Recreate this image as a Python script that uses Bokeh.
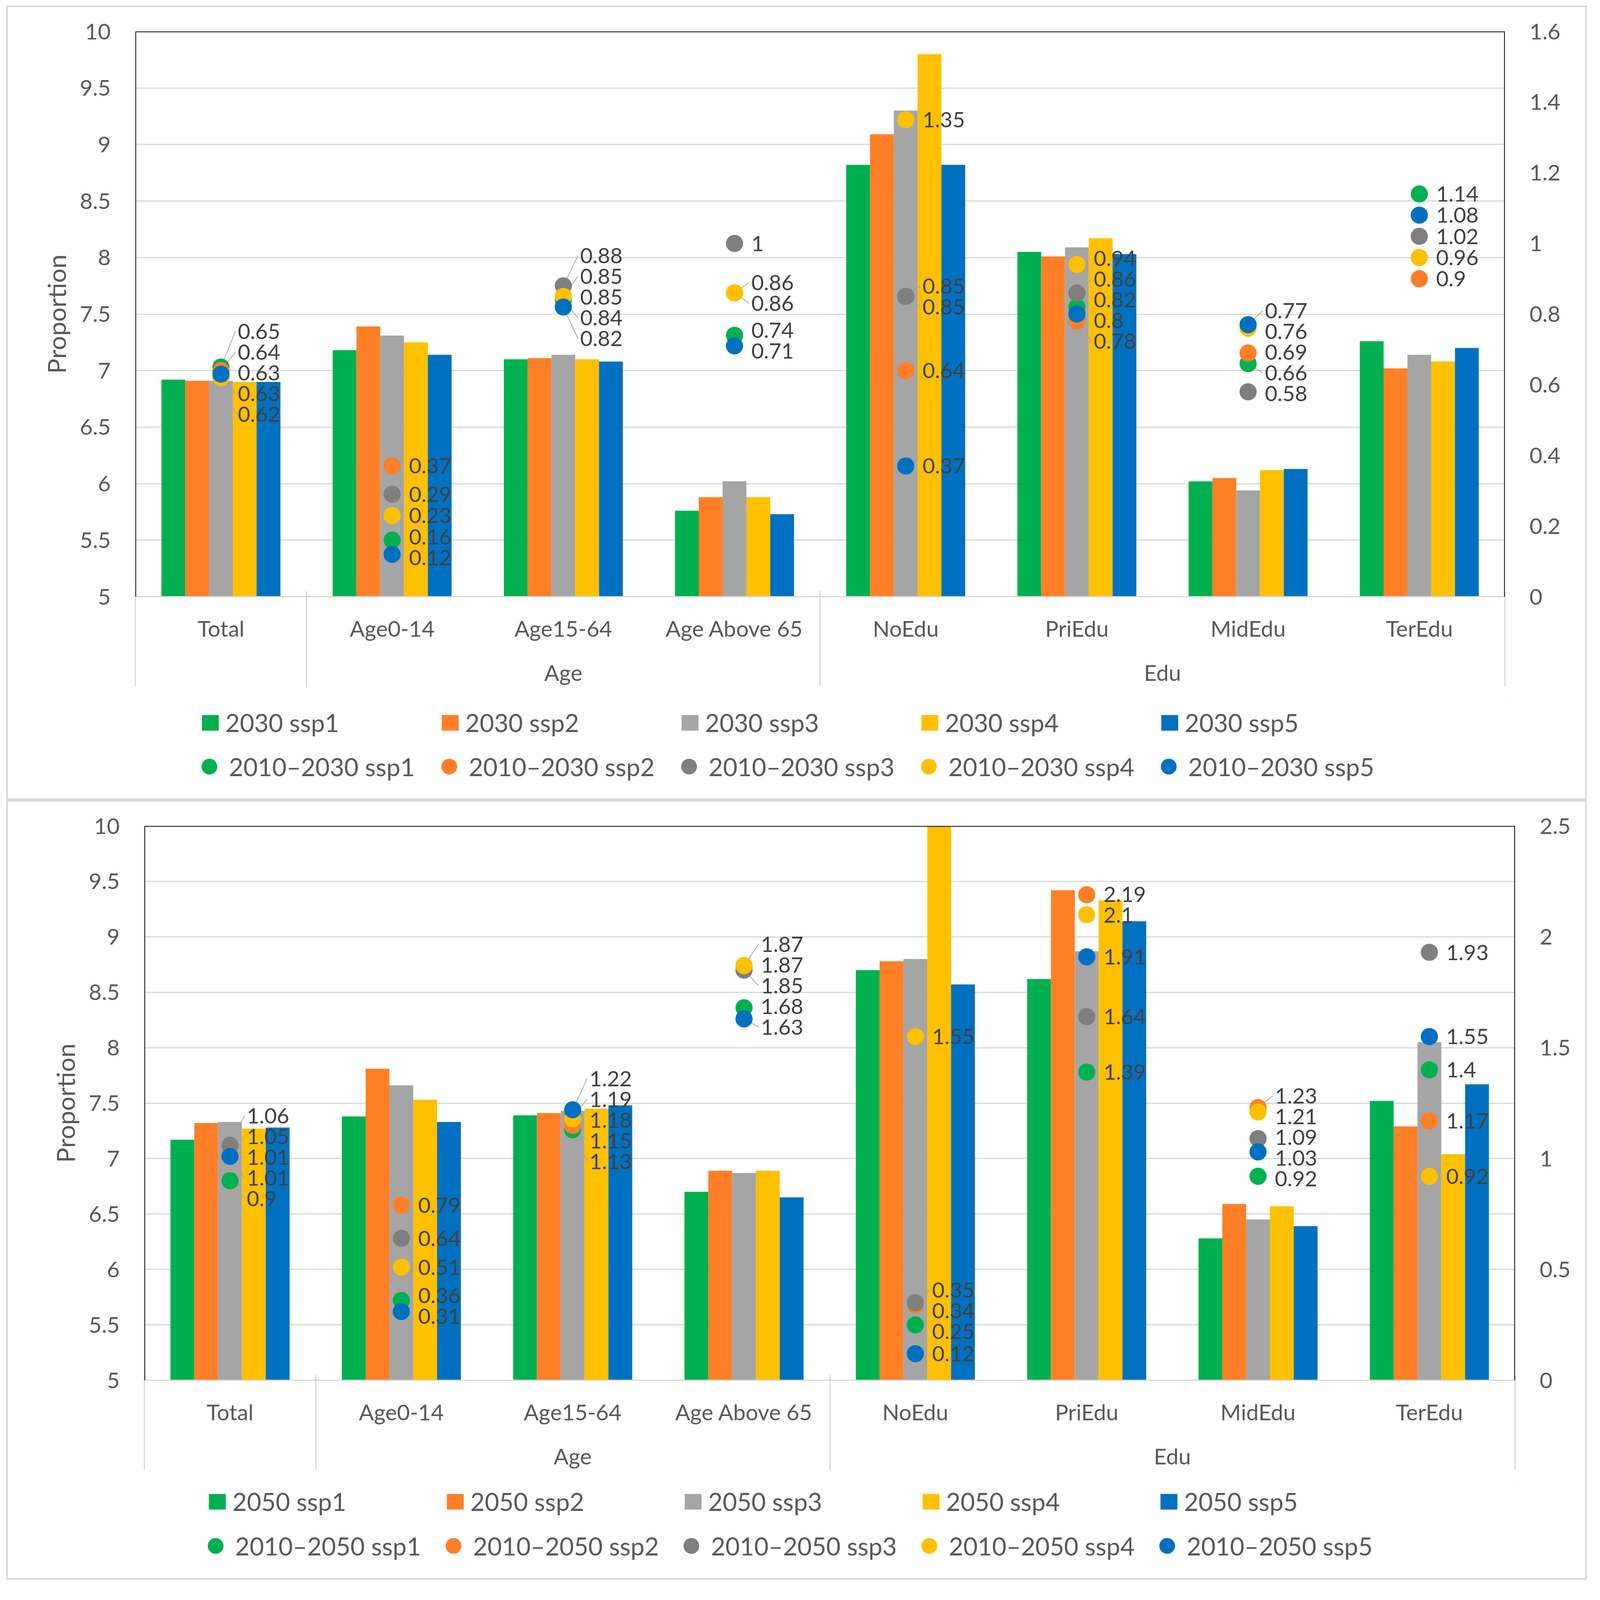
import numpy as np
from bokeh.plotting import figure
from bokeh.models import (Range1d, LinearAxis, ColumnDataSource, Legend, LegendItem,
                          NumeralTickFormatter, FixedTicker, Span, Spacer,
                          CustomJSTickFormatter)
from bokeh.layouts import column, row
from bokeh.embed import file_html
from bokeh.resources import INLINE
from bokeh.core.properties import value

# ---------------- data ----------------
groups = ["", "Age", "Age", "Age", "Edu", "Edu", "Edu", "Edu"]
categories = ["Total", "Age0-14", "Age15-64", "Age Above 65", "NoEdu", "PriEdu", "MidEdu", "TerEdu"]
scenarios = ["ssp1", "ssp2", "ssp3", "ssp4", "ssp5"]

# 2030 proportions (left axis)
bar2030_ssp1 = [6.92, 7.18, 7.10, 5.76, 8.82, 8.05, 6.02, 7.26]
bar2030_ssp2 = [6.91, 7.39, 7.11, 5.88, 9.09, 8.01, 6.05, 7.02]
bar2030_ssp3 = [6.91, 7.31, 7.14, 6.02, 9.30, 8.09, 5.94, 7.14]
bar2030_ssp4 = [6.90, 7.25, 7.10, 5.88, 9.80, 8.17, 6.12, 7.08]
bar2030_ssp5 = [6.90, 7.14, 7.08, 5.73, 8.82, 8.03, 6.13, 7.20]

# 2010-2030 change (right axis)
chg2030_ssp1 = [0.65, 0.16, 0.84, 0.74, 0.85, 0.82, 0.66, 1.14]
chg2030_ssp2 = [0.64, 0.37, 0.85, 0.86, 0.64, 0.78, 0.69, 0.90]
chg2030_ssp3 = [0.63, 0.29, 0.88, 1.00, 0.85, 0.86, 0.58, 1.02]
chg2030_ssp4 = [0.62, 0.23, 0.85, 0.86, 1.35, 0.94, 0.76, 0.96]
chg2030_ssp5 = [0.63, 0.12, 0.82, 0.71, 0.37, 0.80, 0.77, 1.08]

# 2050 proportions (left axis)
bar2050_ssp1 = [7.17, 7.38, 7.39, 6.70, 8.70, 8.62, 6.28, 7.52]
bar2050_ssp2 = [7.32, 7.81, 7.41, 6.89, 8.78, 9.42, 6.59, 7.29]
bar2050_ssp3 = [7.33, 7.66, 7.43, 6.87, 8.80, 8.87, 6.45, 8.05]
bar2050_ssp4 = [7.27, 7.53, 7.45, 6.89, 10.30, 9.33, 6.57, 7.04]
bar2050_ssp5 = [7.28, 7.33, 7.48, 6.65, 8.57, 9.14, 6.39, 7.67]

# 2010-2050 change (right axis)
chg2050_ssp1 = [0.90, 0.36, 1.13, 1.68, 0.25, 1.39, 0.92, 1.40]
chg2050_ssp2 = [1.05, 0.79, 1.15, 1.87, 0.34, 2.19, 1.23, 1.17]
chg2050_ssp3 = [1.06, 0.64, 1.19, 1.85, 0.35, 1.64, 1.09, 1.93]
chg2050_ssp4 = [1.01, 0.51, 1.18, 1.87, 1.55, 2.10, 1.21, 0.92]
chg2050_ssp5 = [1.01, 0.31, 1.22, 1.63, 0.12, 1.91, 1.03, 1.55]

left_ticks = [5, 5.5, 6, 6.5, 7, 7.5, 8, 8.5, 9, 9.5, 10]
right_ticks_2030 = [0, 0.2, 0.4, 0.6, 0.8, 1.0, 1.2, 1.4, 1.6]
right_ticks_2050 = [0, 0.5, 1.0, 1.5, 2.0, 2.5]

bar_colors = ["#00B050", "#FF7F27", "#A5A5A5", "#FFC000", "#0070C0"]
dot_colors = ["#00B050", "#FF7F27", "#7F7F7F", "#FFC000", "#0070C0"]

# ---------------- style ----------------
SX = 0.922         # CSS px per reference pixel, horizontally
SY = 0.83          # CSS px per reference pixel, vertically (visible page height)
FS = 0.86          # font scale
FONT = "Lato"
TICK_COLOR = "#595959"
LABEL_COLOR = "#404040"
GRID = "#d9d9d9"
BORDER = {"border": "4px solid #d9d9d9"}
LOOKUP = "const i = c.indexOf(tick); return i >= 0 ? t[i] : '';"


def pxx(v):
    return int(round(v * SX))


def pxy(v):
    return int(round(v * SY))


def fs(v):
    return f"{v * FS:.1f}px"


def spread(vals, gap):
    """1-D label de-overlap: clusters of labels centred on their mean value."""
    order = sorted(range(len(vals)), key=lambda i: -vals[i])
    clusters = [[i] for i in order]

    def pos(cl):
        c = float(np.mean([vals[i] for i in cl]))
        n = len(cl)
        return [c + ((n - 1) / 2 - k) * gap for k in range(n)]

    changed = True
    while changed:
        changed = False
        for k in range(len(clusters) - 1):
            a, b = clusters[k], clusters[k + 1]
            if pos(a)[-1] - pos(b)[0] < gap - 1e-9:
                clusters[k] = a + b
                del clusters[k + 1]
                changed = True
                break
    out = [0.0] * len(vals)
    for cl in clusters:
        for i, y in zip(cl, pos(cl)):
            out[i] = y
    return out


def fmt(v):
    return f"{v:g}"


def style_tick_labels(ax):
    ax.major_label_text_font = FONT
    ax.major_label_text_font_size = fs(66)
    ax.major_label_text_color = TICK_COLOR
    ax.major_tick_line_color = None
    ax.minor_tick_line_color = None


def make_panel(year, bars, chgs, right_ticks, width, chart_h, legend_h, borders,
               leg_x, leg_c, legend_pitch):
    n = len(categories)
    cx = [i + 0.5 for i in range(n)]          # category centres on the x scale
    bl, br, bt, bb = pxx(borders[0]), pxx(borders[1]), pxy(borders[2]), pxy(borders[3])
    H = pxy(chart_h)
    W = pxx(width)
    p = figure(width=W, height=H, x_range=Range1d(0, n), y_range=Range1d(5, 10),
               output_backend="svg", toolbar_location=None, x_axis_location=None,
               min_border_left=bl, min_border_right=br,
               min_border_top=bt, min_border_bottom=bb)
    p.outline_line_color = None
    p.background_fill_color = "white"
    p.border_fill_color = "white"

    rmax = right_ticks[-1]
    p.extra_y_ranges = {"r": Range1d(0, rmax)}

    p.xgrid.grid_line_color = None
    p.ygrid.grid_line_color = GRID
    p.ygrid.grid_line_width = 3

    bw = 0.139
    offsets = [(k - 2) * bw for k in range(5)]
    bar_src = []
    for k in range(5):
        src = ColumnDataSource(dict(x=[c + offsets[k] for c in cx], top=bars[k]))
        p.vbar(x="x", top="top", bottom=5, width=bw, source=src,
               fill_color=bar_colors[k], line_color=None)
        bar_src.append(src)

    # data-label layout (right axis units)
    frame_h = H - bt - bb
    gap = pxy(64) * rmax / frame_h
    label_y = [[0.0] * n for _ in range(5)]
    for j in range(n):
        ys = spread([chgs[k][j] for k in range(5)], gap)
        for k in range(5):
            label_y[k][j] = ys[k]

    # leader lines for displaced labels
    lx0, lx1, ly0, ly1 = [], [], [], []
    for k in range(5):
        for j in range(n):
            if abs(label_y[k][j] - chgs[k][j]) > 0.35 * gap:
                lx0.append(cx[j]); lx1.append(cx[j] + 0.085)
                ly0.append(chgs[k][j]); ly1.append(label_y[k][j])
    lsrc = ColumnDataSource(dict(x0=lx0, x1=lx1, y0=ly0, y1=ly1))
    p.segment(x0="x0", y0="y0", x1="x1", y1="y1",
              source=lsrc, y_range_name="r", line_color="#a6a6a6", line_width=2)

    dot_size = int(round(51 * FS))
    dot_src = []
    for k in range(5):
        src = ColumnDataSource(dict(x=cx, v=chgs[k]))
        p.scatter(x="x", y="v", source=src, y_range_name="r", size=dot_size,
                  marker="circle", fill_color=dot_colors[k], line_color=None)
        dot_src.append(src)

    for k in range(5):
        src = ColumnDataSource(dict(x=cx, y=label_y[k], t=[fmt(v) for v in chgs[k]]))
        p.text(x="x", y="y", text="t", source=src, y_range_name="r", x_offset=pxx(47),
               text_align="left", text_baseline="middle", text_font=value(FONT),
               text_font_size=fs(64), text_color=LABEL_COLOR)

    # black plot-area border on top, left and right
    for loc, dim in [(10, "width"), (0, "height"), (n, "height")]:
        p.add_layout(Span(location=loc, dimension=dim, line_color="black", line_width=4))

    # left axis
    ya = p.yaxis[0]
    ya.ticker = FixedTicker(ticks=left_ticks)
    ya.formatter = NumeralTickFormatter(format="0.[0]")
    ya.axis_line_color = None
    style_tick_labels(ya)
    ya.major_label_standoff = pxx(62)
    ya.axis_label = "Proportion"
    ya.axis_label_text_font = FONT
    ya.axis_label_text_font_size = fs(75)
    ya.axis_label_text_font_style = "normal"
    ya.axis_label_text_color = TICK_COLOR
    ya.axis_label_standoff = pxx(20)

    # right axis
    ra = LinearAxis(y_range_name="r", ticker=FixedTicker(ticks=right_ticks),
                    formatter=NumeralTickFormatter(format="0.[0]"))
    ra.axis_line_color = None
    style_tick_labels(ra)
    ra.major_label_standoff = pxx(62)
    p.add_layout(ra, "right")

    # vertical placement of the two label rows below the plot area
    h_lab = 1.5 * 66 * FS                 # height Bokeh reserves for one label row
    sc = pxy(100) - h_lab / 2
    sg = pxy(246) - sc - 1.5 * h_lab

    # category labels (with the grey category axis line)
    ca = LinearAxis(ticker=FixedTicker(ticks=cx),
                    formatter=CustomJSTickFormatter(args=dict(c=cx, t=categories), code=LOOKUP))
    style_tick_labels(ca)
    ca.axis_line_color = GRID
    ca.axis_line_width = 3
    ca.major_label_standoff = int(round(sc))
    p.add_layout(ca, "below")

    # group labels
    gnames = [g for g in dict.fromkeys(groups) if g]
    gcent = []
    for g in gnames:
        idx = [i for i in range(n) if groups[i] == g]
        gcent.append((min(idx) + max(idx) + 1) / 2)
    ga = LinearAxis(ticker=FixedTicker(ticks=gcent),
                    formatter=CustomJSTickFormatter(args=dict(c=gcent, t=gnames), code=LOOKUP))
    ga.axis_line_color = None
    style_tick_labels(ga)
    ga.major_label_standoff = int(round(sg))
    p.add_layout(ga, "below")

    # group separators: minor ticks at group boundaries, pointing up to the plot area
    bounds = [0] + [i for i in range(1, n) if groups[i] != groups[i - 1]] + [n]
    sep = LinearAxis(ticker=FixedTicker(ticks=[], minor_ticks=bounds))
    sep.axis_line_color = None
    sep.major_tick_line_color = None
    sep.minor_tick_line_color = GRID
    sep.minor_tick_line_width = 3
    sep.minor_tick_in = int(round(sc + sg + 2 * h_lab - 3))
    sep.minor_tick_out = 0
    sep.major_label_standoff = 0
    p.add_layout(sep, "below")

    # legend strip (same data sources; its ranges keep the marks out of view)
    Lh = pxy(legend_h)
    pl = figure(width=W, height=Lh, x_range=Range1d(-3, -2),
                y_range=Range1d(-2, -1), output_backend="svg", toolbar_location=None,
                x_axis_location=None, y_axis_location=None, min_border=0)
    pl.outline_line_color = None
    pl.background_fill_color = "white"
    pl.border_fill_color = "white"
    pl.xgrid.visible = False
    pl.ygrid.visible = False
    lb = [pl.vbar(x="x", top="top", bottom=5, width=bw, source=bar_src[k],
                  fill_color=bar_colors[k], line_color=None) for k in range(5)]
    ld = [pl.scatter(x="x", y="v", source=dot_src[k], size=dot_size, marker="circle",
                     fill_color=dot_colors[k], line_color=None) for k in range(5)]
    items1 = [LegendItem(label=f"{year} {s}", renderers=[lb[k]]) for k, s in enumerate(scenarios)]
    items2 = [LegendItem(label=f"2010\u2013{year} {s}", renderers=[ld[k]]) for k, s in enumerate(scenarios)]
    lab_h = pxy(90)
    g1w, g1h = pxx(59), pxy(60)
    g2w, g2h = pxx(110), pxy(125)
    h1, h2 = max(lab_h, g1h), max(lab_h, g2h)
    y1 = Lh - pxy(leg_c[0]) - h1 / 2
    y2 = Lh - pxy(leg_c[1]) - h2 / 2
    pitch = pxx(legend_pitch)
    common = dict(orientation="horizontal", spacing=0, padding=0, margin=0,
                  border_line_color=None, background_fill_alpha=0,
                  label_text_font=FONT, label_text_font_size=fs(74),
                  label_text_color=TICK_COLOR, label_height=lab_h)
    leg1 = Legend(items=items1, location=(pxx(leg_x[0]), int(round(y1))),
                  glyph_width=g1w, glyph_height=g1h, label_standoff=pxx(13),
                  label_width=pitch - g1w - pxx(13), **common)
    leg2 = Legend(items=items2, location=(pxx(leg_x[1]), int(round(y2))),
                  glyph_width=g2w, glyph_height=g2h, label_standoff=0,
                  label_width=pitch - g2w, **common)
    pl.add_layout(leg1, "center")
    pl.add_layout(leg2, "center")

    return column(p, pl, styles=BORDER)


panel1 = make_panel("2030",
                    [bar2030_ssp1, bar2030_ssp2, bar2030_ssp3, bar2030_ssp4, bar2030_ssp5],
                    [chg2030_ssp1, chg2030_ssp2, chg2030_ssp3, chg2030_ssp4, chg2030_ssp5],
                    right_ticks_2030, 4380, 2140, 301, (354, 223, 75, 322),
                    (179, 151), (68, 203), 666)
panel2 = make_panel("2050",
                    [bar2050_ssp1, bar2050_ssp2, bar2050_ssp3, bar2050_ssp4, bar2050_ssp5],
                    [chg2050_ssp1, chg2050_ssp2, chg2050_ssp3, chg2050_ssp4, chg2050_ssp5],
                    right_ticks_2050, 4380, 2094, 301, (378, 195, 75, 310),
                    (173, 143), (65, 201), 660)

layout = column(Spacer(height=max(pxy(27) - 8, 0)),
                row(Spacer(width=max(pxx(26) - 8, 0)), panel1),
                row(Spacer(width=max(pxx(26) - 8, 0)), panel2))

open("out.html", "w").write(file_html(layout, INLINE))
